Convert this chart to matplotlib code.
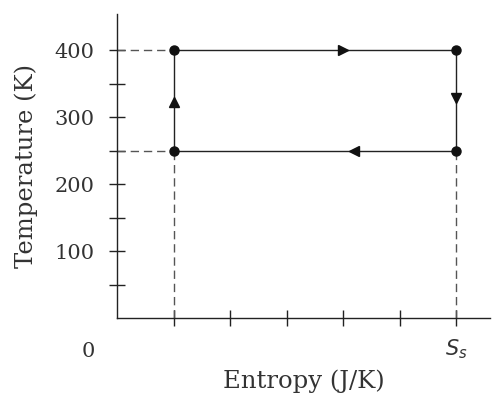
import matplotlib
matplotlib.use('Agg')
from matplotlib import pyplot as plt

plt.rcParams['font.family'] = ['DejaVu Serif']

# цикл: энтропия (в делениях оси) и температура
entropy = [1, 6, 6, 1]
temperature = [400, 400, 250, 250]
# стрелки направления обхода: (S, T, маркер)
arrows = [(4.0, 400, '>'), (6, 328, 'v'), (4.2, 250, '<'), (1, 322, '^')]

y_major = [100, 200, 300, 400]
y_minor = [50, 150, 250, 350]
x_ticks = [1, 2, 3, 4, 5, 6]
x_labels = ['', '', '', '', '', '$S_s$']

fig = plt.figure(figsize=(4.95, 4.03), dpi=100)
ax = fig.add_axes([0.2364, 0.2109, 0.7536, 0.7544])

col = '#222222'
txt = '#333333'
lw = 1.0
dash = (0, (6, 3.5))

# пунктир до осей
for t in (400, 250):
    ax.plot([0, 1], [t, t], ls=dash, color='#555555', lw=lw)
ax.plot([1, 1], [0, 250], ls=dash, color='#555555', lw=lw)
ax.plot([6, 6], [0, 250], ls=dash, color='#555555', lw=lw)

ax.plot(entropy + entropy[:1], temperature + temperature[:1], color=col, lw=lw)
ax.plot(entropy, temperature, 'o', color='#111111', ms=6.5)
for s, t, m in arrows:
    ax.plot(s, t, marker=m, color='#111111', ms=7, ls='none')

ax.set_xlim(0, 6.6)
ax.set_ylim(0, 454)
ax.spines['top'].set_visible(False)
ax.spines['right'].set_visible(False)
for sp in ('left', 'bottom'):
    ax.spines[sp].set_color(col)
    ax.spines[sp].set_linewidth(lw)

ax.set_yticks(y_major)
ax.set_yticks(y_minor, minor=True)
ax.set_xticks(x_ticks)
ax.set_xticklabels(x_labels, fontsize=15)
ax.tick_params(axis='both', which='both', direction='inout', length=12,
               width=lw, color=col, labelsize=15, labelcolor=txt)
ax.tick_params(axis='y', pad=10)
ax.tick_params(axis='x', pad=8)

ax.annotate('0', xy=(0, 0), xycoords='data', xytext=(-21, -24),
            textcoords='offset points', ha='center', va='center',
            fontsize=15, color=txt)

ax.set_ylabel('Temperature (K)', fontsize=17.5, color=txt, labelpad=12)
ax.set_xlabel('Entropy (J/K)', fontsize=17.5, color=txt, labelpad=6)

fig.savefig('out.png', dpi=100)
